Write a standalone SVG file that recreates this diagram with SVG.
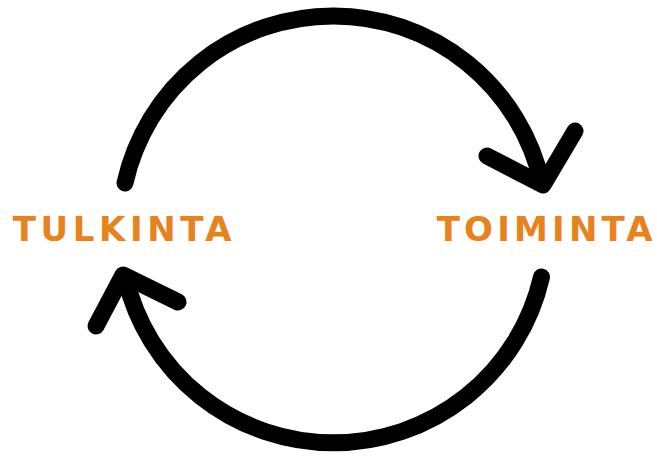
<svg xmlns="http://www.w3.org/2000/svg" width="657" height="456" viewBox="0 0 657 456">
  <style>
    .arc { fill: none; stroke: #000; stroke-width: 17; stroke-linecap: round; stroke-linejoin: round; }
    .lbl { font-family: "DejaVu Sans", "Liberation Sans", sans-serif; font-weight: bold; font-size: 34px; fill: #E8821C; }
  </style>
  <rect width="657" height="456" fill="#fff"/>
  <g id="connectors">
    <path class="arc" d="M125,183 A213.5,213.5 0 0 1 541.8,183"/>
    <path class="arc" d="M487,156 L543,185 L575,131"/>
    <path class="arc" d="M541.5,277 A213.5,213.5 0 0 1 125.3,277"/>
    <path class="arc" d="M178,302 L123,275 L96,326"/>
  </g>
  <g id="tulkinta">
    <text class="lbl" x="12.7" y="240.7" textLength="219" lengthAdjust="spacing">TULKINTA</text>
  </g>
  <g id="toiminta">
    <text class="lbl" x="436.7" y="240.7" textLength="216" lengthAdjust="spacing">TOIMINTA</text>
  </g>
</svg>
